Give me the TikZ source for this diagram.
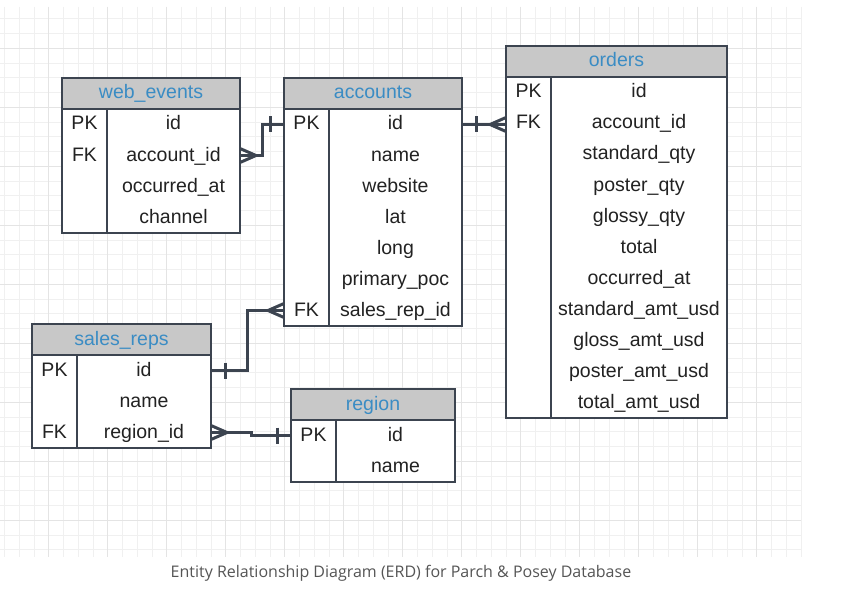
\documentclass[tikz,border=0pt]{standalone}
\usepackage{fontspec}
\setmainfont{Liberation Sans}
\newfontfamily\captionfont{Open Sans}
\usetikzlibrary{positioning, calc}

\begin{document}
\begin{tikzpicture}
		[x=1pt,y=-1pt,line cap=butt,
		%Styles
		grid minor/.style={draw=gridline, line width=.8pt},
		grid major/.style={draw=gridmajor, line width=1.2pt},
		table box/.style={draw=tableline, line width=2.5pt, fill=white},
		table head/.style={draw=tableline, line width=2.5pt, fill=headgrey, text=titleblue,
			minimum height=31pt, inner sep=0pt, outer sep=0pt, anchor=north west, text height=15pt, text depth=4pt,
			font=\fontsize{19.5}{21}\selectfont},
		key cell/.style={minimum width=45pt, minimum height=31pt, inner sep=0pt, outer sep=0pt, anchor=north west,
			text height=15pt, text depth=4pt, text=fieldtext, font=\fontsize{19.5}{21}\selectfont},
		field cell/.style={minimum height=31pt, inner sep=0pt, outer sep=0pt, text height=15pt, text depth=4pt,
			text=fieldtext, font=\fontsize{19.5}{21}\selectfont},
		divider/.style={draw=tableline, line width=2.5pt},
		relation/.style={draw=tableline, line width=3pt},
		many end/.pic={\draw[relation] (0,-7) -- (16,0) -- (0,7);},
		one end/.pic={\draw[relation] (14,-8) -- (14,8);}
		]
		
		%Colors
		\definecolor{tableline}{HTML}{3C4450}
		\definecolor{headgrey}{HTML}{C8C8C8}
		\definecolor{titleblue}{HTML}{3A8CC4}
		\definecolor{fieldtext}{HTML}{222222}
		\definecolor{gridline}{HTML}{F0F0F0}
		\definecolor{gridmajor}{HTML}{E4E4E4}
		\definecolor{captiongrey}{HTML}{555555}
		
		\useasboundingbox[fill=white] (0,0) rectangle (842,596);
		
		%The grid
		\foreach \i in {0,...,54}
			\draw[grid minor] ({4.45+14.75*\i},7) -- ({4.45+14.75*\i},557);
		\foreach \j in {0,...,36}
			\draw[grid minor] (0,{18.8+14.75*\j}) -- (801,{18.8+14.75*\j});
		\foreach \i in {3,7,...,51}
			\draw[grid major] ({4.45+14.75*\i},7) -- ({4.45+14.75*\i},557);
		\foreach \j in {2,6,...,34}
			\draw[grid major] (0,{18.8+14.75*\j}) -- (801,{18.8+14.75*\j});
		
		%web_events
		\draw[table box] (62,78) rectangle ++(178,155);
		\draw[divider] (107,109) -- ++(0,124);
		\node[table head, minimum width=178pt] (we) at (62,78) {web\_events};
		\foreach \key/\field [count=\i] in {PK/id, FK/account\_id, /occurred\_at, /channel}{
			\node[key cell] (we-k\i) at (62,{78+31*\i}) {\key};
			\node[field cell, minimum width=133pt, right=0pt of we-k\i] (we-f\i) {\field};
		}
		
		%accounts
		\draw[table box] (284,78) rectangle ++(178,248);
		\draw[divider] (329,109) -- ++(0,217);
		\node[table head, minimum width=178pt] (acc) at (284,78) {accounts};
		\foreach \key/\field [count=\i] in {PK/id, /name, /website, /lat, /long, /primary\_poc, FK/sales\_rep\_id}{
			\node[key cell] (acc-k\i) at (284,{78+31*\i}) {\key};
			\node[field cell, minimum width=133pt, right=0pt of acc-k\i] (acc-f\i) {\field};
		}
		
		%orders
		\draw[table box] (506,46) rectangle ++(221,372);
		\draw[divider] (551,77) -- ++(0,341);
		\node[table head, minimum width=221pt] (ord) at (506,46) {orders};
		\foreach \key/\field [count=\i] in {PK/id, FK/account\_id, /standard\_qty, /poster\_qty, /glossy\_qty, /total,
			/occurred\_at, /standard\_amt\_usd, /gloss\_amt\_usd, /poster\_amt\_usd, /total\_amt\_usd}{
			\node[key cell] (ord-k\i) at (506,{46+31*\i}) {\key};
			\node[field cell, minimum width=176pt, right=0pt of ord-k\i] (ord-f\i) {\field};
		}
		
		%sales_reps
		\draw[table box] (32,324) rectangle ++(179,124);
		\draw[divider] (77,355) -- ++(0,93);
		\node[table head, minimum width=179pt] (sr) at (32,324) {sales\_reps};
		\foreach \key/\field [count=\i] in {PK/id, /name, FK/region\_id}{
			\node[key cell] (sr-k\i) at (32,{324+31*\i}) {\key};
			\node[field cell, minimum width=134pt, right=0pt of sr-k\i] (sr-f\i) {\field};
		}
		
		%region
		\draw[table box] (291,389) rectangle ++(164,93);
		\draw[divider] (336,420) -- ++(0,62);
		\node[table head, minimum width=164pt] (rg) at (291,389) {region};
		\foreach \key/\field [count=\i] in {PK/id, /name}{
			\node[key cell] (rg-k\i) at (291,{389+31*\i}) {\key};
			\node[field cell, minimum width=119pt, right=0pt of rg-k\i] (rg-f\i) {\field};
		}
		
		%Relations
		\draw[relation] (we-f2.east) -- ++(22,0) |- (acc-k1.west);
		\pic at (we-f2.east) {many end};
		\pic[xscale=-1] at (acc-k1.west) {one end};
		
		\draw[relation] (acc-f1.east) -- (acc-f1.east -| ord-k2.west);
		\pic at (acc-f1.east) {one end};
		\pic[xscale=-1] at (acc-f1.east -| ord-k2.west) {many end};
		
		\draw[relation] (sr-f1.east) -- ++(36,0) |- (acc-k7.west);
		\pic at (sr-f1.east) {one end};
		\pic[xscale=-1] at (acc-k7.west) {many end};
		
		\draw[relation] (sr-f3.east) -- ++(40,0) |- (rg-k1.west);
		\pic at (sr-f3.east) {many end};
		\pic[xscale=-1] at (rg-k1.west) {one end};
		
		%Caption
		\node[text=captiongrey, font=\captionfont\fontsize{16}{18}\selectfont] (caption) at (401,573)
			{Entity Relationship Diagram (ERD) for Parch \& Posey Database};
		
	\end{tikzpicture}
\end{document}
